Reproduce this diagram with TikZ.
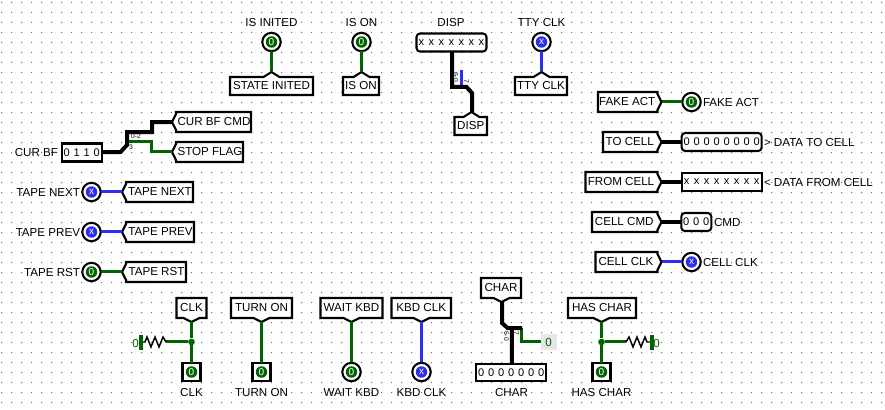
\documentclass[tikz,border=0pt]{standalone}
\usepackage{fontspec}
\setmainfont{Liberation Sans}
\definecolor{wgreen}{RGB}{0,100,0}
\definecolor{wblue}{RGB}{45,45,245}
\definecolor{constbg}{RGB}{230,230,230}
\newcommand{\lab}{\fontsize{8.7pt}{10pt}\selectfont}
\def\val#1{\valx#1\relax}
\def\valx#1{\ifx#1\relax\else\makebox[7.5pt]{#1}\expandafter\valx\fi}
\tikzset{
  x=0.75pt,y=-0.75pt,
  box/.style={draw=black,line width=1.55pt,fill=white,miter limit=4},
  txt/.style={inner sep=0pt,outer sep=0pt,font=\lab,text=black},
  small/.style={inner sep=0pt,outer sep=0pt,font=\fontsize{5pt}{5pt}\selectfont,text=black},
  wg/.style={draw=wgreen,line width=2.3pt,line join=miter,transform canvas={yshift=0.375pt}},
  wb/.style={draw=wblue,line width=2.3pt,transform canvas={yshift=0.375pt}},
  wk/.style={draw=black,line width=3pt,line join=miter,transform canvas={xshift=0.375pt}},
  ledo/.style={circle,draw=black,line width=1.55pt,fill=white,minimum size=13.8pt,inner sep=0pt,outer sep=0pt},
  ledi/.style={circle,fill=#1,minimum size=8.6pt,inner sep=0pt,outer sep=0pt,text=white,font=\fontsize{7.5pt}{8pt}\selectfont},
  sqpin/.style={rectangle,draw=black,line width=1.55pt,fill=white,minimum size=13.5pt,inner sep=0pt,outer sep=0pt},
  valpin/.style={rectangle,draw=black,line width=1.55pt,fill=white,minimum height=13.5pt,inner sep=0pt,outer sep=0pt,font=\fontsize{8.3pt}{9pt}\selectfont},
  roundpin/.style={valpin,rounded corners=2.6pt},
  jun/.style={circle,fill=wgreen,minimum size=5pt,inner sep=0pt,outer sep=0pt},
  zig/.style={draw=black,line width=1.1pt,line join=miter},
  bar/.style={draw=wgreen,line width=2.4pt},
  cval/.style={inner sep=0pt,outer sep=0pt,font=\lab,text=wgreen},
}
% apex up: name, xl, xr, xc, ytop, text
\newcommand{\TunU}[6]{%
  \draw[box] ({#2+1},{#5+1}) -- ({#4-8},{#5+1}) -- (#4,{#5-4}) -- ({#4+8},{#5+1}) -- ({#3-1},{#5+1}) -- ({#3-1},{#5+19}) -- ({#2+1},{#5+19}) -- cycle;
  \coordinate (#1a) at (#4,{#5-4});
  \node[txt] (#1) at ({(#2+#3)/2},{#5+10}) {#6};}
% apex down
\newcommand{\TunD}[6]{%
  \draw[box] ({#2+1},#5) -- ({#3-1},#5) -- ({#3-1},{#5+20}) -- ({#4+8},{#5+20}) -- (#4,{#5+24}) -- ({#4-8},{#5+20}) -- ({#2+1},{#5+20}) -- cycle;
  \coordinate (#1a) at (#4,{#5+24});
  \node[txt] (#1) at ({(#2+#3)/2},{#5+10}) {#6};}
% apex left: name, apexx, xr, yc, text
\newcommand{\TunL}[5]{%
  \draw[box] (#2,#4) -- ({#2+4},{#4-8}) -- ({#2+4},{#4-10}) -- ({#3-1},{#4-10}) -- ({#3-1},{#4+10}) -- ({#2+4},{#4+10}) -- ({#2+4},{#4+8}) -- cycle;
  \coordinate (#1a) at (#2,#4);
  \node[txt] (#1) at ({(#2+4+#3)/2},#4) {#5};}
% apex right: name, xl, apexx, yc, text
\newcommand{\TunR}[5]{%
  \draw[box] (#3,#4) -- ({#3-4},{#4-8}) -- ({#3-4},{#4-10}) -- ({#2+1},{#4-10}) -- ({#2+1},{#4+10}) -- ({#3-4},{#4+10}) -- ({#3-4},{#4+8}) -- cycle;
  \coordinate (#1a) at (#3,#4);
  \node[txt] (#1) at ({(#2+#3-4)/2},#4) {#5};}
\newcommand{\Led}[5]{%
  \node[ledo] (#1) at (#2,#3) {};
  \node[ledi=#4] (#1i) at (#1.center) {#5};}
\newcommand{\SqPin}[3]{%
  \node[sqpin] (#1) at (#2,#3) {};
  \node[ledi=wgreen] (#1i) at (#1.center) {0};}
\begin{document}
\begin{tikzpicture}
\useasboundingbox (0,0) rectangle (885,410);
\fill[white] (0,0) rectangle (885,410);
\fill[black!58] \foreach \i in {0,...,88} { \foreach \j in {0,...,40} { ({1+\i*10},{2+\j*10}) rectangle +(1,1) } };

% --- top row
\Led{ledinit}{271.5}{42}{wgreen}{0}
\TunU{tinit}{229}{314}{271.5}{76}{STATE INITED}
\node[txt] (linit) at (271.5,22.5) {IS INITED};
\draw[wg] (ledinit) -- (tinita);

\Led{ledon}{361.5}{42}{wgreen}{0}
\TunU{ton}{342}{380}{361.5}{76}{IS ON}
\node[txt] (lon) at (361.5,22.5) {IS ON};
\draw[wg] (ledon) -- (tona);

\node[roundpin,minimum width=50.5pt] (pdisp) at (451.5,42.5) {\val{xxxxxxx}};
\node[txt] (ldisp) at (451,22.5) {DISP};
\TunU{tdisp}{453.5}{488}{471.5}{116}{DISP}
\coordinate (sd1) at (451.5,87);
\coordinate (sd2) at (466,87);
\coordinate (sd3) at (471.5,93);
\coordinate (sdt) at (461.3,71);
\coordinate (sdb) at (461.3,86);
\draw[wb] (sdt) -- (sdb);
\draw[wk] (pdisp) -- (sd1) -- (sd2) -- (sd3) -- (tdispa);
\node[small,rotate=-90] (sdl1) at (456,77) {6-0};
\node[small,rotate=-90] (sdl2) at (466.5,81) {7};

\Led{ledtty}{541.5}{42}{wblue}{x}
\TunU{ttty}{514}{568}{541.5}{76}{TTY CLK}
\node[txt] (ltty) at (541.5,22.5) {TTY CLK};
\draw[wb] (ledtty) -- (tttya);

% --- left side
\node[valpin,minimum width=28pt] (pcur) at (81.7,152.5) {\val{0110}};
\node[txt,anchor=east] (lcur) at (58,153) {CUR BF};
\TunL{tcmd}{172}{252}{122}{CUR BF CMD}
\TunL{tstop}{172}{244}{152}{STOP FLAG}
\coordinate (c1) at (120,152);
\coordinate (c2) at (126.5,145);
\coordinate (c3) at (126.5,132);
\coordinate (c4) at (151.5,132);
\coordinate (c5) at (151.5,122);
\coordinate (c6) at (126.5,142);
\coordinate (c7) at (151.5,142);
\coordinate (c8) at (151.5,152);
\draw[wg] (c6) -- (c7) -- (c8) -- (tstopa);
\draw[wk] (pcur) -- (c1) -- (c2) -- (c3) -- (c4) -- (c5) -- (tcmda);
\node[small] (cl1) at (136,136.5) {0-2};
\node[small] (cl2) at (131,147) {3};

\Led{lednext}{91.5}{192}{wblue}{x}
\node[txt,anchor=east] (lnext) at (80,193) {TAPE NEXT};
\TunL{tnext}{122}{194}{192}{TAPE NEXT}
\draw[wb] (lednext) -- (tnexta);

\Led{ledprev}{91.5}{232}{wblue}{x}
\node[txt,anchor=east] (lprev) at (80,233) {TAPE PREV};
\TunL{tprev}{122}{195}{232}{TAPE PREV}
\draw[wb] (ledprev) -- (tpreva);

\Led{ledrst}{91.5}{272}{wgreen}{0}
\node[txt,anchor=east] (lrst) at (80,273) {TAPE RST};
\TunL{trst}{122}{187}{272}{TAPE RST}
\draw[wg] (ledrst) -- (trsta);

% --- right side
\TunR{tfake}{597}{661.5}{102}{FAKE ACT}
\Led{ledfake}{691.5}{102}{wgreen}{0}
\node[txt,anchor=west] (lfake) at (703,103) {FAKE ACT};
\draw[wg] (tfakea) -- (ledfake);

\TunR{tto}{602}{661.5}{142}{TO CELL}
\node[roundpin,minimum width=58.5pt] (pto) at (721.7,142) {\val{00000000}};
\node[txt,anchor=west] (lto) at (764,143) {> DATA TO CELL};
\draw[wk] (ttoa) -- (pto);

\TunR{tfrom}{584.5}{661.5}{182}{FROM CELL}
\node[valpin,minimum width=58.5pt] (pfrom) at (721.7,182) {\val{xxxxxxxx}};
\node[txt,anchor=west] (lfrom) at (764,183) {< DATA FROM CELL};
\draw[wk] (tfroma) -- (pfrom);

\TunR{tccmd}{591}{661.5}{222}{CELL CMD}
\node[roundpin,minimum width=20.5pt] (pcmd) at (696.3,222) {\val{000}};
\node[txt,anchor=west] (lcmd) at (714,223) {CMD};
\draw[wk] (tccmda) -- (pcmd);

\TunR{tcclk}{594.5}{661.5}{262}{CELL CLK}
\Led{ledcclk}{691.5}{262}{wblue}{x}
\node[txt,anchor=west] (lcclk) at (703,263) {CELL CLK};
\draw[wb] (tcclka) -- (ledcclk);

% --- bottom row
\TunD{tclk}{175.5}{207.5}{191.5}{298}{CLK}
\SqPin{pclk}{191.5}{372}
\node[txt] (lclk) at (191.5,392.5) {CLK};
\node[jun] (jclk) at (191.5,342) {};
\coordinate (rc1) at (166,342);
\coordinate (rc2) at (145,342);
\coordinate (rc3) at (141,342);
\draw[wg] (tclka) -- (jclk) -- (pclk);
\draw[wg] (jclk) -- (rc1);
\draw[zig] (rc1) -- (163,337) -- (159,347) -- (155,337) -- (151,347) -- (147,337) -- (rc2) -- (rc3);
\draw[bar] (141,335) -- (141,350);
\node[cval] (cclk) at (135.5,344) {0};

\TunD{tturn}{230}{293}{261.5}{298}{TURN ON}
\SqPin{pturn}{261.5}{372}
\node[txt] (lturn) at (261.5,392.5) {TURN ON};
\draw[wg] (tturna) -- (pturn);

\TunD{twait}{319.5}{383.5}{351.5}{298}{WAIT KBD}
\Led{ledwait}{351.5}{372}{wgreen}{0}
\node[txt] (lwait) at (351.5,392.5) {WAIT KBD};
\draw[wg] (twaita) -- (ledwait);

\TunD{tkbd}{390.5}{452}{421.5}{298}{KBD CLK}
\Led{ledkbd}{421.5}{372}{wblue}{x}
\node[txt] (lkbd) at (421.5,392.5) {KBD CLK};
\draw[wb] (tkbda) -- (ledkbd);

\TunD{tchar}{480}{522}{501.5}{278}{CHAR}
\node[valpin,minimum width=50.5pt,minimum height=13pt] (pchar) at (511.3,372.5) {\val{0000000}};
\node[txt] (lchar) at (511.5,392.5) {CHAR};
\coordinate (h1) at (501.5,323);
\coordinate (h2) at (507,328);
\coordinate (h3) at (521.5,328);
\coordinate (h4) at (511.5,328);
\coordinate (h5) at (521.5,342);
\node[fill=constbg,minimum width=12pt,minimum height=12pt,inner sep=0pt,outer sep=0pt] (gbox) at (548.7,342) {};
\node[cval] (cchar) at (548.5,343) {0};
\draw[wg] (h3) -- (h5) -- (gbox.west);
\draw[wk] (tchara) -- (h1) -- (h2) -- (h3);
\draw[wk] (h4) -- (pchar);
\node[small,rotate=-90] (chl1) at (506.5,336) {6-0};
\node[small,rotate=-90] (chl2) at (516.5,333) {7};

\TunD{thas}{567}{637}{601.5}{298}{HAS CHAR}
\SqPin{phas}{601.5}{372}
\node[txt] (lhas) at (601.5,392.5) {HAS CHAR};
\node[jun] (jhas) at (601.5,342) {};
\coordinate (rh1) at (626,342);
\coordinate (rh2) at (647,342);
\coordinate (rh3) at (652,342);
\draw[wg] (thasa) -- (jhas) -- (phas);
\draw[wg] (jhas) -- (rh1);
\draw[zig] (rh1) -- (629,337) -- (633,347) -- (637,337) -- (641,347) -- (645,337) -- (rh2) -- (rh3);
\draw[bar] (652,335) -- (652,350);
\node[cval] (chas) at (656.5,344) {0};
\end{tikzpicture}
\end{document}
